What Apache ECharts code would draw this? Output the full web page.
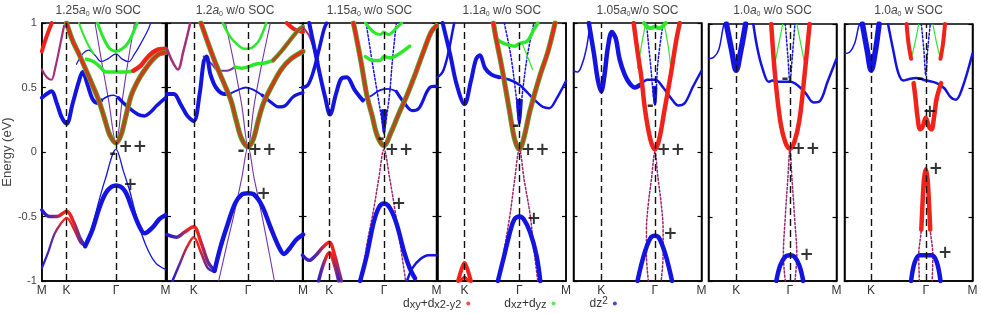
<!DOCTYPE html>
<html><head><meta charset="utf-8">
<script src="https://cdn.jsdelivr.net/npm/echarts@6/dist/echarts.min.js"></script>
<style>html,body{margin:0;padding:0;background:#fff}#c{width:981px;height:314px}</style>
</head><body><div id="c"></div>
<script>
// ---------------- DATA ----------------
// k-path positions (fraction of panel width) of K and Gamma, per panel
const kPoints = [[0.2,0.6],[0.196,0.596],[0.2,0.608],[0.21,0.637],[0.216,0.636],[0.216,0.636],[0.208,0.635]];
const titleNums = ['1.25','1.2','1.15','1.1','1.05','1.0','1.0'];
const titleTails = [' w/o SOC',' w/o SOC',' w/o SOC',' w/o SOC','w/o SOC',' w/o SOC',' w SOC'];
const legendNames = ['dxy+dx2-y2','dxz+dyz','dz2'];

// Panel 1 (1.25 a0)
const p1Red1 = [[0,0.78],[0.04,0.9],[0.08,1.0]];
const p1Red2 = [[0,0.64],[0.04,0.58],[0.077,0.56],[0.11,0.66],[0.15,0.84],[0.18,0.98]];
const p1Para = [[0.2,1.0],[0.25,0.86],[0.3,0.76],[0.35,0.65],[0.4,0.54],[0.46,0.4],[0.51,0.25],[0.55,0.13],[0.6,0.07],[0.64,0.13],[0.68,0.28],[0.72,0.43],[0.76,0.52],[0.8,0.59],[0.85,0.66],[0.9,0.72],[0.95,0.76],[1,0.77]];
const p1Green1 = [[0.45,1.0],[0.5,0.88],[0.55,0.8],[0.6,0.78],[0.65,0.8],[0.7,0.85],[0.75,0.95],[0.77,1.0]];
const p1Green2 = [[0.36,0.72],[0.42,0.7],[0.47,0.66],[0.52,0.62],[0.6,0.62],[0.68,0.62],[0.74,0.63]];
const p1GreenTL = [[0.3,1.0],[0.34,0.9],[0.38,0.82],[0.42,0.76]];
const p1Red4 = [[0.74,0.63],[0.8,0.67],[0.86,0.74],[0.93,0.79],[1,0.8]];
const p1Blue1 = [[0,0.42],[0.04,0.45],[0.077,0.47],[0.12,0.38],[0.16,0.27],[0.2,0.22],[0.25,0.38],[0.3,0.55],[0.33,0.62],[0.37,0.52],[0.41,0.41],[0.45,0.38],[0.48,0.4]];
const p1Blue2 = [[0.48,0.4],[0.53,0.43],[0.58,0.44],[0.62,0.42]];
const p1Blue3 = [[0.62,0.42],[0.66,0.38],[0.72,0.33],[0.78,0.29],[0.83,0.28],[0.88,0.31],[0.93,0.36],[1,0.42]];
const p1BlueThin = [[0.28,0.68],[0.33,0.76],[0.38,0.79],[0.43,0.75],[0.48,0.7],[0.53,0.72],[0.6,0.76],[0.65,0.72],[0.7,0.7],[0.75,0.76],[0.8,0.84],[0.86,0.95],[0.88,1.0]];
const p1DiracUp = [[0.43,1.0],[0.48,0.72],[0.54,0.4],[0.6,0.07],[0.65,0.4],[0.7,0.72],[0.75,1.0]];
const p1ValA = [[0,-0.45],[0.06,-0.5],[0.12,-0.5],[0.2,-0.46],[0.26,-0.55],[0.31,-0.67],[0.35,-0.73]];
const p1ValB = [[0,-0.9],[0.05,-0.78],[0.1,-0.64],[0.15,-0.56],[0.2,-0.51],[0.26,-0.6],[0.31,-0.7],[0.35,-0.73]];
const p1Top = [[0.35,-0.73],[0.41,-0.6],[0.47,-0.42],[0.53,-0.3],[0.6,-0.26],[0.67,-0.3],[0.73,-0.44],[0.79,-0.58],[0.83,-0.63],[0.9,-0.58],[0.95,-0.52],[1,-0.49]];
const p1Dirac = [[0.35,-0.74],[0.42,-0.53],[0.47,-0.35],[0.51,-0.22],[0.6,0.02],[0.66,-0.15],[0.71,-0.3],[0.77,-0.52],[0.84,-0.72],[0.92,-0.86],[1,-0.91]];
const p1Marks = [[0.574,-0.02,'-'],[0.735,0.037,'++'],[0.715,-0.26,'+']];

// Panel 2 (1.2 a0)
const p2RedTL = [[0,0.8],[0.04,0.7],[0.08,0.64],[0.12,0.78],[0.16,0.95],[0.17,1.0]];
const p2RedTR = [[0.88,1.0],[0.94,0.95],[1,0.93]];
const p2Purp = [[0.27,0.74],[0.33,0.68],[0.38,0.63],[0.44,0.63],[0.5,0.66]];
const p2Para = [[0.25,1.0],[0.3,0.85],[0.36,0.68],[0.42,0.53],[0.47,0.4],[0.51,0.24],[0.55,0.1],[0.596,0.04],[0.635,0.1],[0.67,0.24],[0.71,0.38],[0.78,0.53],[0.84,0.64],[0.91,0.72],[1,0.78]];
const p2Green1 = [[0.41,1.0],[0.46,0.9],[0.51,0.84],[0.57,0.8],[0.6,0.8],[0.64,0.82],[0.68,0.87],[0.73,1.0]];
const p2Green2 = [[0.5,0.66],[0.55,0.65],[0.596,0.66],[0.65,0.68],[0.72,0.69],[0.78,0.71]];
const p2Olive = [[0.78,0.71],[0.84,0.78],[0.9,0.86],[0.97,0.95],[1,0.97]];
const p2Blue1 = [[0,0.45],[0.05,0.45],[0.1,0.37],[0.15,0.28],[0.196,0.24],[0.24,0.45],[0.27,0.7],[0.29,0.74],[0.32,0.6],[0.36,0.5],[0.42,0.45],[0.46,0.45]];
const p2Blue2 = [[0.46,0.45],[0.52,0.48],[0.58,0.5],[0.64,0.48],[0.7,0.44]];
const p2Blue3 = [[0.7,0.44],[0.76,0.39],[0.82,0.35],[0.87,0.36],[0.93,0.43],[1,0.46]];
const p2DiracUp = [[0.43,1.0],[0.49,0.7],[0.55,0.36],[0.596,0.04],[0.64,0.36],[0.7,0.7],[0.76,1.0]];
const p2ValA = [[0,-0.64],[0.07,-0.66],[0.13,-0.62],[0.196,-0.58],[0.25,-0.7],[0.3,-0.85],[0.35,-0.92]];
const p2ValB = [[0.04,-1.0],[0.1,-0.85],[0.15,-0.73],[0.196,-0.66],[0.25,-0.78],[0.3,-0.9],[0.35,-0.93]];
const p2Top = [[0.35,-0.92],[0.39,-0.75],[0.44,-0.58],[0.5,-0.4],[0.55,-0.33],[0.596,-0.32],[0.64,-0.33],[0.7,-0.42],[0.76,-0.58],[0.82,-0.73],[0.86,-0.79],[0.9,-0.75],[0.95,-0.68],[1,-0.64]];
const p2Dirac = [[0.38,-1.0],[0.44,-0.72],[0.5,-0.45],[0.55,-0.2],[0.596,0.04],[0.64,-0.2],[0.69,-0.45],[0.74,-0.72],[0.79,-1.0]];
const p2Marks = [[0.544,0.006,'-'],[0.70,0.01,'++'],[0.71,-0.33,'+']];

// Panel 3 (1.15 a0)
const p3Blue1 = [[0,0.5],[0.04,0.52],[0.08,0.62],[0.12,0.78],[0.16,0.95],[0.18,1.0]];
const p3Blue2 = [[0.05,1.0],[0.09,0.8],[0.13,0.6],[0.17,0.42],[0.205,0.29],[0.25,0.45],[0.29,0.57],[0.33,0.58],[0.39,0.48],[0.45,0.4]];
const p3Blue3 = [[0.45,0.4],[0.52,0.44],[0.58,0.48],[0.64,0.49],[0.7,0.47]];
const p3Blue4 = [[0.7,0.47],[0.76,0.38],[0.82,0.32],[0.87,0.34],[0.95,0.5],[1,0.51]];
const p3BlueV = [[0.475,1.0],[0.52,0.7],[0.56,0.45],[0.6,0.2],[0.608,0.15],[0.62,0.22],[0.65,0.45],[0.67,0.7],[0.7,1.0]];
const p3BlueTip = [[0.598,0.32],[0.608,0.15],[0.618,0.32]];
const p3Para = [[0.38,1.0],[0.4,0.9],[0.44,0.68],[0.48,0.44],[0.52,0.28],[0.56,0.12],[0.608,0.05],[0.66,0.15],[0.72,0.3],[0.78,0.44],[0.84,0.6],[0.9,0.77],[0.96,0.93],[1,0.98]];
const p3Green1 = [[0.47,1.0],[0.53,0.93],[0.58,0.91],[0.608,0.93],[0.64,0.91],[0.7,0.96],[0.74,1.0]];
const p3Green2 = [[0.47,0.74],[0.53,0.71],[0.58,0.71],[0.608,0.74],[0.65,0.73],[0.72,0.76],[0.8,0.82]];
const p3PurpTL = [[0,0.97],[0.05,0.9],[0.1,0.75],[0.12,0.7]];
const p3ValA = [[0,-0.8],[0.05,-0.84],[0.1,-0.8],[0.15,-0.74],[0.2,-0.7],[0.24,-0.8],[0.27,-0.92],[0.29,-1.0]];
const p3ValB = [[0.12,-1.0],[0.16,-0.86],[0.2,-0.78],[0.24,-0.88],[0.27,-1.0]];
const p3ValR = [[0.78,-1.0],[0.82,-0.9],[0.88,-0.83],[0.94,-0.8],[1,-0.8]];
const p3Top = [[0.43,-1.0],[0.48,-0.8],[0.53,-0.55],[0.57,-0.43],[0.608,-0.4],[0.65,-0.43],[0.7,-0.55],[0.76,-0.78],[0.8,-0.9],[0.84,-0.98]];
const p3Dirac = [[0.44,-1.0],[0.48,-0.72],[0.53,-0.45],[0.57,-0.2],[0.608,0.02],[0.65,-0.2],[0.69,-0.45],[0.73,-0.72],[0.77,-1.0]];
const p3Marks = [[0.586,0.094,'-'],[0.72,0.01,'++'],[0.72,-0.41,'+']];

// Panel 4 (1.1 a0)
const p4Blue1 = [[0,0.58],[0.04,0.62],[0.08,0.75],[0.12,0.95],[0.13,1.0]];
const p4Blue2 = [[0.04,1.0],[0.1,0.75],[0.15,0.52],[0.21,0.37],[0.26,0.55],[0.3,0.72],[0.33,0.75],[0.37,0.65],[0.42,0.6],[0.48,0.58]];
const p4Blue3 = [[0.48,0.58],[0.56,0.56],[0.64,0.52],[0.7,0.46],[0.76,0.4],[0.82,0.35],[0.87,0.34],[0.93,0.42],[1,0.55]];
const p4BlueV = [[0.52,1.0],[0.57,0.75],[0.61,0.45],[0.637,0.22],[0.66,0.45],[0.7,0.75],[0.75,1.0]];
const p4BlueTip = [[0.625,0.4],[0.637,0.22],[0.65,0.4]];
const p4Para = [[0.435,1.0],[0.45,0.91],[0.5,0.66],[0.56,0.32],[0.6,0.1],[0.637,0.02],[0.67,0.1],[0.72,0.32],[0.8,0.6],[0.86,0.78],[0.915,1.0]];
const p4Green1 = [[0.45,0.88],[0.5,0.85],[0.55,0.83],[0.6,0.82],[0.637,0.84],[0.7,0.86],[0.75,0.95],[0.78,1.0]];
const p4Green2 = [[0.66,0.84],[0.7,0.74],[0.74,0.64]];
const p4Top = [[0.47,-1.0],[0.52,-0.8],[0.57,-0.6],[0.6,-0.52],[0.637,-0.5],[0.67,-0.52],[0.72,-0.62],[0.77,-0.8],[0.8,-1.0]];
const p4KRed = [[0.16,-1.0],[0.19,-0.9],[0.21,-0.86],[0.23,-0.9],[0.26,-1.0]];
const p4KRed2 = [[0.18,-1.0],[0.21,-0.97],[0.24,-1.0]];
const p4Dirac = [[0.47,-1.0],[0.52,-0.75],[0.565,-0.48],[0.6,-0.22],[0.637,0.02],[0.675,-0.22],[0.72,-0.48],[0.75,-0.75],[0.78,-1.0]];
const p4Marks = [[0.61,0.197,'-'],[0.76,0.01,'++'],[0.75,-0.52,'+']];

// Panel 5 (1.05 a0)
const p5Blue0 = [[0,0.63],[0.03,0.62],[0.06,0.66],[0.1,0.8],[0.13,1.0]];
const p5BlueK = [[0.12,1.0],[0.16,0.76],[0.19,0.56],[0.216,0.47],[0.24,0.58],[0.27,0.82],[0.3,0.93],[0.33,0.88],[0.36,0.72],[0.4,0.6],[0.44,0.53],[0.48,0.5],[0.52,0.52]];
const p5BlueR = [[0.52,0.52],[0.58,0.56],[0.64,0.56],[0.7,0.5],[0.76,0.42],[0.82,0.36],[0.87,0.38],[0.93,0.5],[1,0.63]];
const p5BlueV = [[0.57,1.0],[0.6,0.7],[0.636,0.37],[0.66,0.7],[0.7,1.0]];
const p5BlueTip = [[0.63,0.5],[0.636,0.37],[0.642,0.5]];
const p5Para = [[0.47,1.0],[0.5,0.78],[0.53,0.58],[0.56,0.32],[0.6,0.1],[0.636,0.02],[0.67,0.1],[0.71,0.32],[0.76,0.6],[0.8,0.85],[0.83,1.0]];
const p5Green1 = [[0.55,1.0],[0.6,0.96],[0.636,0.97],[0.67,0.96],[0.72,1.0]];
const p5Green2 = [[0.5,0.65],[0.53,0.82],[0.56,0.98]];
const p5Green3 = [[0.76,0.65],[0.74,0.82],[0.71,0.98]];
const p5Top = [[0.5,-1.0],[0.55,-0.8],[0.6,-0.67],[0.636,-0.65],[0.67,-0.67],[0.72,-0.8],[0.77,-1.0]];
const p5Dirac = [[0.585,-1.0],[0.57,-0.8],[0.57,-0.6],[0.585,-0.4],[0.61,-0.2],[0.636,0.0],[0.66,-0.2],[0.685,-0.4],[0.7,-0.6],[0.7,-0.8],[0.685,-1.0]];
const p5Marks = [[0.6,0.35,'-'],[0.76,0.01,'++'],[0.756,-0.64,'+']];

// Panel 6 (1.0 a0, no SOC)
const p6Blue0 = [[0,0.73],[0.04,0.74],[0.08,0.8],[0.11,0.95],[0.12,1.0]];
const p6BlueK = [[0.14,1.0],[0.18,0.8],[0.216,0.64],[0.25,0.78],[0.29,1.0]];
const p6Blue2 = [[0.35,1.0],[0.38,0.82],[0.42,0.66],[0.47,0.55],[0.5,0.56],[0.56,0.55],[0.64,0.55],[0.7,0.52],[0.76,0.46],[0.82,0.39],[0.87,0.4],[0.93,0.55],[1,0.73]];
const p6BlueV = [[0.6,1.0],[0.62,0.75],[0.636,0.55],[0.655,0.75],[0.675,1.0]];
const p6Para = [[0.49,1.0],[0.52,0.6],[0.56,0.25],[0.6,0.08],[0.636,0.03],[0.67,0.08],[0.71,0.25],[0.75,0.6],[0.79,1.0]];
const p6Green1 = [[0.52,0.7],[0.55,0.85],[0.58,1.0]];
const p6Green2 = [[0.75,0.7],[0.72,0.85],[0.69,1.0]];
const p6Top = [[0.53,-1.0],[0.56,-0.88],[0.6,-0.81],[0.636,-0.8],[0.67,-0.81],[0.71,-0.88],[0.74,-1.0]];
const p6Dirac = [[0.6,-1.0],[0.585,-0.8],[0.6,-0.5],[0.62,-0.2],[0.636,0.02],[0.652,-0.2],[0.672,-0.5],[0.69,-0.8],[0.675,-1.0]];
const p6Marks = [[0.597,0.565,'-'],[0.76,0.02,'++'],[0.766,-0.8,'+']];

// Panel 7 (1.0 a0, with SOC)
const p7Blue0 = [[0,0.77],[0.04,0.78],[0.08,0.85],[0.11,0.98],[0.12,1.0]];
const p7BlueK = [[0.14,1.0],[0.18,0.78],[0.208,0.64],[0.24,0.78],[0.27,1.0]];
const p7Blue2 = [[0.34,1.0],[0.38,0.8],[0.42,0.62],[0.46,0.56],[0.5,0.57],[0.56,0.58],[0.64,0.56],[0.72,0.54],[0.78,0.5],[0.83,0.43],[0.87,0.41],[0.92,0.5],[1,0.77]];
const p7BlueV = [[0.6,1.0],[0.62,0.8],[0.635,0.6],[0.65,0.8],[0.67,1.0]];
const p7RedUpL = [[0.485,1.0],[0.5,0.85],[0.52,0.73]];
const p7RedUpR = [[0.785,1.0],[0.77,0.85],[0.75,0.73]];
const p7GreenL = [[0.52,0.73],[0.55,0.85],[0.58,1.0]];
const p7GreenR = [[0.75,0.73],[0.72,0.85],[0.69,1.0]];
const p7RedW = [[0.54,0.54],[0.555,0.42],[0.57,0.28],[0.59,0.18],[0.61,0.2],[0.635,0.27],[0.66,0.2],[0.68,0.18],[0.7,0.28],[0.72,0.42],[0.755,0.54]];
const p7RedDome = [[0.6,-0.6],[0.612,-0.35],[0.622,-0.2],[0.635,-0.13],[0.648,-0.2],[0.658,-0.35],[0.67,-0.6]];
const p7Dirac = [[0.585,-1.0],[0.58,-0.8],[0.6,-0.6],[0.612,-0.35],[0.635,-0.13],[0.658,-0.35],[0.67,-0.6],[0.69,-0.8],[0.685,-1.0]];
const p7Top = [[0.52,-1.0],[0.55,-0.85],[0.59,-0.8],[0.635,-0.8],[0.68,-0.8],[0.72,-0.85],[0.75,-1.0]];
const p7Marks = [[0.59,0.565,'-'],[0.667,0.31,'+'],[0.714,-0.13,'+'],[0.786,-0.79,'+']];

// ---------------- STYLE / LAYOUT ----------------
const RED='#f0231a', GRN='#2be82b', BLU='#1414e0', PUR='#7433a8', MAR='#98266e', MIX='#a3307a';
const FONT = 'Liberation Sans';
const gridL = [31,167,302.5,437.5,573.5,708.5,844.5];
const gridW = [134.5,136,134,128.5,128,128,128];
const gridT = [23,23,23,23,23,24,24];
const gridB = 281;

function lg(x2, y2, stops){ return new echarts.graphic.LinearGradient(0,0,x2,y2, stops.map(s=>({offset:s[0], color:s[1]}))); }
function kGrad(data, p){
  const xs = data.map(d=>d[0]); const mn=Math.min(...xs), mx=Math.max(...xs);
  const k = (kPoints[p][0]-mn)/(mx-mn);
  const c = v=>Math.max(0,Math.min(1,v));
  return lg(1,0,[[0,BLU],[c(k-0.3),'#5a2aa0'],[c(k-0.1),RED],[c(k+0.1),RED],[c(k+0.3),'#5a2aa0'],[1,BLU]]);
}
const paraGrad = () => lg(0,1,[[0,RED],[0.45,'#c8401c'],[1,'#a9521f']]);

const series = [];
function band(p, data, color, width, dotted){
  series.push({type:'line', xAxisIndex:p, yAxisIndex:p, data:data, symbol:'none', showSymbol:false,
    smooth:0.35, silent:true, animation:false, z:2,
    lineStyle:{color:color, width:width, type: dotted?[2,2]:'solid', cap:'round', join:'round'}});
}
function para(p, data, green){
  if (green) band(p, data, '#4cb02e', 5.2);
  band(p, data, green ? paraGrad() : RED, green ? 3.6 : 4.5);
}
function marks(p, arr){
  series.push({type:'scatter', xAxisIndex:p, yAxisIndex:p, symbolSize:0, silent:true, animation:false, z:20,
    itemStyle:{color:'#000'},
    data: arr.map(a=>({value:[a[0],a[1]], name:a[2]})),
    label:{show:true, position:'inside', formatter:'{b}', color:'#000', fontFamily:'DejaVu Sans',
      fontSize:17, fontWeight:'bold', textBorderWidth:0, textBorderColor:'transparent', textShadowBlur:0}});
}

// Panel 1
band(0,p1Red1,RED,4); band(0,p1Red2,MIX,2.2);
band(0,p1BlueThin,BLU,1.2); band(0,p1DiracUp,PUR,1.1);
band(0,p1GreenTL,GRN,2); band(0,p1Green1,GRN,3); band(0,p1Green2,GRN,3.5); band(0,p1Red4,RED,4.5);
band(0,p1Blue1,BLU,4); band(0,p1Blue2,BLU,1.6); band(0,p1Blue3,BLU,3.5);
para(0,p1Para,true);
band(0,p1ValB,kGrad(p1ValB,0),2.2); band(0,p1ValA,kGrad(p1ValA,0),3.5);
band(0,p1Dirac,BLU,1.3); band(0,p1Top,BLU,4.5);
marks(0,p1Marks);
// Panel 2
band(1,p2RedTL,MIX,2.5); band(1,p2RedTR,RED,4); band(1,p2Purp,PUR,2);
band(1,p2DiracUp,PUR,1.1);
band(1,p2Green1,GRN,2.5); band(1,p2Green2,GRN,3.5); band(1,p2Olive,'#4cb02e',4.5); band(1,p2Olive,'#b8461c',2.6);
band(1,p2Blue1,BLU,4); band(1,p2Blue2,BLU,1.8); band(1,p2Blue3,BLU,3.2);
para(1,p2Para,true);
band(1,p2ValB,kGrad(p2ValB,1),2.5); band(1,p2ValA,kGrad(p2ValA,1),3.5);
band(1,p2Dirac,PUR,1.1); band(1,p2Top,BLU,4.5);
marks(1,p2Marks);
// Panel 3
band(2,p3PurpTL,MIX,2); band(2,p3Blue1,BLU,3.5); band(2,p3Blue2,BLU,4); band(2,p3Blue3,BLU,1.8); band(2,p3Blue4,BLU,3.2);
band(2,p3BlueV,BLU,1.5,true); band(2,p3BlueTip,BLU,3.5);
band(2,p3Green1,GRN,3); band(2,p3Green2,GRN,3.5);
para(2,p3Para,true);
band(2,p3ValA,kGrad(p3ValA,2),3.5); band(2,p3ValB,kGrad(p3ValB,2),3.5); band(2,p3ValR,BLU,2.5);
band(2,p3Dirac,MAR,1.5,true); band(2,p3Top,BLU,4.5);
marks(2,p3Marks);
// Panel 4
band(3,p4Blue1,BLU,2.5); band(3,p4Blue2,BLU,4); band(3,p4Blue3,BLU,2.5);
band(3,p4BlueV,BLU,1.5,true); band(3,p4BlueTip,BLU,3.5);
band(3,p4Green1,GRN,3.5); band(3,p4Green2,GRN,1.2);
para(3,p4Para,true);
band(3,p4KRed,RED,4); band(3,p4KRed2,RED,3);
band(3,p4Dirac,MAR,1.5,true); band(3,p4Top,BLU,4.5);
marks(3,p4Marks);
// Panel 5
band(4,p5Blue0,BLU,1.5); band(4,p5BlueK,BLU,4.5); band(4,p5BlueR,BLU,2.5);
band(4,p5BlueV,BLU,1.5,true); band(4,p5BlueTip,BLU,3.5);
band(4,p5Green1,GRN,4); band(4,p5Green2,GRN,1.2); band(4,p5Green3,GRN,1.2);
para(4,p5Para,false);
band(4,p5Dirac,MAR,1.5,true); band(4,p5Top,BLU,4.5);
marks(4,p5Marks);
// Panel 6
band(5,p6Blue0,BLU,1.5); band(5,p6BlueK,BLU,5.5); band(5,p6Blue2,BLU,2.5);
band(5,p6BlueV,BLU,1.5,true);
band(5,p6Green1,GRN,1.2); band(5,p6Green2,GRN,1.2);
para(5,p6Para,false);
band(5,p6Dirac,MAR,1.5,true); band(5,p6Top,BLU,4.5);
marks(5,p6Marks);
// Panel 7
band(6,p7Blue0,BLU,1.5); band(6,p7BlueK,BLU,5.5); band(6,p7Blue2,BLU,2.5);
band(6,p7BlueV,BLU,1.5,true);
band(6,p7GreenL,GRN,1.2); band(6,p7GreenR,GRN,1.2);
band(6,p7RedUpL,RED,4); band(6,p7RedUpR,RED,4);
band(6,p7RedW,RED,4.5);
band(6,p7Dirac,MAR,1.5,true); band(6,p7RedDome,RED,4.5); band(6,p7Top,BLU,4.5);
marks(6,p7Marks);

// dashed K / Gamma lines
kPoints.forEach((kp,p)=>{
  series.push({type:'line', xAxisIndex:p, yAxisIndex:p, data:[], silent:true, animation:false, z:10,
    markLine:{silent:true, symbol:['none','none'], label:{show:false}, animation:false,
      lineStyle:{type:[7,4], color:'#111', width:1.4},
      data: kp.map(v=>({xAxis:v}))}});
});
// legend carrier series
[RED,GRN,BLU].forEach((c,i)=>{
  series.push({type:'scatter', name:legendNames[i], xAxisIndex:0, yAxisIndex:0, data:[], itemStyle:{color:c}});
});

const grids=[], xAxes=[], yAxes=[], graphics=[];
for (let p=0;p<7;p++){
  grids.push({left:gridL[p], top:gridT[p], width:gridW[p], height:gridB-gridT[p], show:true,
    borderColor:'#000', borderWidth:1.5, backgroundColor:'transparent'});
  const K=kPoints[p][0], Gm=kPoints[p][1];
  xAxes.push({gridIndex:p, type:'value', min:0, max:1,
    axisLine:{show:true, onZero:false, lineStyle:{color:'#000', width:1.5}}, axisTick:{show:false}, splitLine:{show:false},
    axisLabel:{show:true, customValues: p===0 ? [0,K,Gm,1] : [K,Gm,1], margin:4, color:'#333', fontSize:12, fontFamily:FONT,
      formatter: v => Math.abs(v-K)<1e-9 ? 'K' : (Math.abs(v-Gm)<1e-9 ? 'Γ' : 'M')}});
  yAxes.push({gridIndex:p, type:'value', min:-1, max:1, interval:0.5, position:'left',
    axisLine:{show:true, onZero:false, lineStyle:{color:'#000', width:1.5}},
    axisTick:{show:true, inside:true, length:4, lineStyle:{color:'#000', width:1.2}},
    splitLine:{show:false},
    axisLabel:{show:p===0, margin:5, color:'#444', fontSize:11, fontFamily:FONT},
    name: p===0 ? 'Energy (eV)' : '', nameLocation:'middle', nameGap:19, nameRotate:90,
    nameTextStyle:{fontSize:13, color:'#444', fontFamily:FONT}});
  yAxes.push({gridIndex:p, type:'value', min:-1, max:1, interval:0.5, position:'right',
    axisLine:{show:true, onZero:false, lineStyle:{color:'#000', width:1.5}},
    axisTick:{show:true, inside:true, length:4, lineStyle:{color:'#000', width:1.2}},
    splitLine:{show:false}, axisLabel:{show:false}});
  graphics.push({type:'text', x: gridL[p]+gridW[p]/2, y: 11, silent:true,
    style:{text:'{n|'+titleNums[p]+'}{a|a}{s|0}{n|'+titleTails[p]+'}', align:'center', verticalAlign:'middle',
      fill:'#444', rich:{n:{fontSize:12, fontFamily:FONT, fill:'#444', lineHeight:14},
        a:{fontSize:12, fontFamily:FONT, fontStyle:'italic', fill:'#444', lineHeight:14},
        s:{fontSize:7, fontFamily:FONT, fill:'#444', verticalAlign:'bottom', lineHeight:9}}}});
}
// y axis index mapping: left axes are even indices
series.forEach(s=>{ s.yAxisIndex = s.yAxisIndex*2; });

const chart = echarts.init(document.getElementById('c'), null, {renderer:'canvas'});
chart.setOption({
  animation:false,
  textStyle:{fontFamily:FONT},
  grid:grids, xAxis:xAxes, yAxis:yAxes, series:series, graphic:graphics,
  legend:{data:legendNames.map(n=>({name:n, icon:'circle'})), left:398, top:291, align:'right',
    itemWidth:4, itemHeight:4, itemGap:34, selectedMode:false,
    formatter: n => ({'dxy+dx2-y2':'d{s|xy}+d{s|x2-y2}','dxz+dyz':'d{s|xz}+d{s|yz}','dz2':'dz{p|2}'})[n],
    textStyle:{fontSize:12, color:'#333', fontFamily:FONT,
      rich:{s:{fontSize:11, color:'#333', fontFamily:FONT, padding:[3,0,0,0]},
            p:{fontSize:10, color:'#333', fontFamily:FONT, padding:[0,0,5,0]}}}}
});
</script></body></html>
